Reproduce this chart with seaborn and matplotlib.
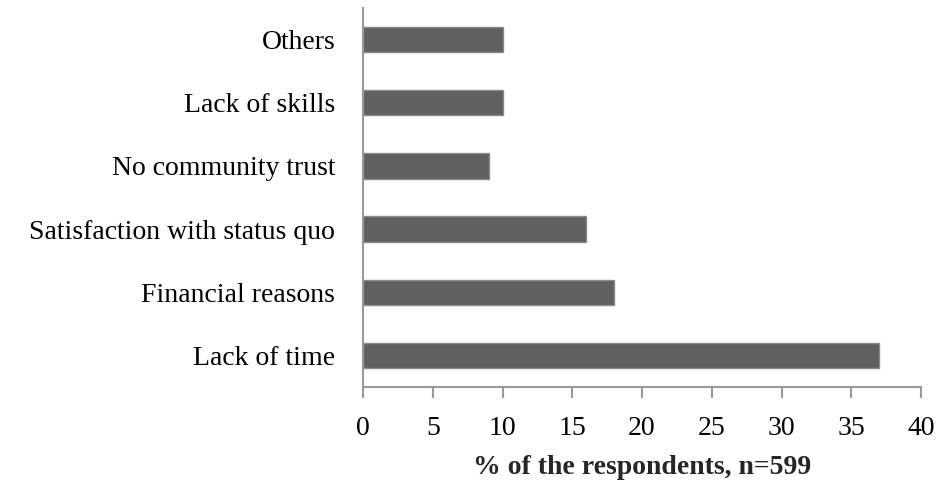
import matplotlib
matplotlib.use("Agg")
import matplotlib.pyplot as plt
import seaborn as sns
import pandas as pd

categories = ["Others", "Lack of skills", "No community trust",
              "Satisfaction with status quo", "Financial reasons", "Lack of time"]
values = [10, 10, 9, 16, 18, 37]
xticks = [0, 5, 10, 15, 20, 25, 30, 35, 40]
xlabel = "% of the respondents, n=599"

sns.set_theme(style="white")
plt.rcParams['font.family'] = ['Liberation Serif', 'DejaVu Serif']

df = pd.DataFrame({"cat": categories, "val": values})

fig = plt.figure(figsize=(9.38, 4.86), dpi=100)
ax = fig.add_axes([363/938, 1 - 387/486, (921 - 363)/938, (387 - 8)/486])

sns.barplot(data=df, x="val", y="cat", orient="h", color="#606060",
            width=0.4, edgecolor="#8a8a8a", linewidth=1.0, saturation=1, ax=ax)

ax.set_xlim(0, 40)
ax.set_ylim(5.5, -0.5)
ax.set_xticks(xticks)
ax.set_xticklabels([str(t) for t in xticks])
ax.set_ylabel("")
ax.set_xlabel(xlabel, fontsize=20, fontweight="bold", labelpad=10)

for s in ["top", "right"]:
    ax.spines[s].set_visible(False)
for s in ["left", "bottom"]:
    ax.spines[s].set_color("#999999")
    ax.spines[s].set_linewidth(1.5)

ax.tick_params(axis="x", which="both", bottom=True, length=8, width=1.5,
               color="#999999", direction="out", labelsize=20, pad=13, labelcolor="black")
ax.tick_params(axis="y", left=False, labelsize=20, pad=14, labelcolor="black")

fig.savefig("out.png", dpi=100)
